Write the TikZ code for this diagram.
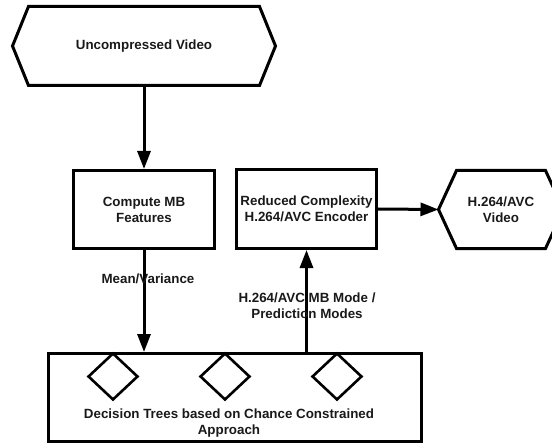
\documentclass[tikz,border=0pt]{standalone}
\usepackage{fontspec}
\setmainfont{Liberation Sans}
\usetikzlibrary{arrows.meta,shapes.geometric}
\begin{document}
\begin{tikzpicture}[x=1bp,y=-1bp,
  txt/.style={font=\bfseries\fontsize{13.4}{16}\selectfont, align=center, text=black!90},
  box/.style={draw, line width=3bp, txt, inner sep=0pt},
  hexa/.style={txt, inner sep=0pt, outer sep=0pt},
  hexline/.style={line width=3bp, line join=miter},
  dia/.style={draw, diamond, line width=2.6bp, inner sep=0pt, minimum width=50bp, minimum height=47bp},
  arr/.style={line width=3bp, -{Triangle[length=18bp,width=13bp]}},
  lbl/.style={txt}
]
\useasboundingbox (0,0) rectangle (552,446);
% top hexagon
\node[hexa, minimum width=263bp, minimum height=79bp] (uv) at (144,46) {Uncompressed Video};
\draw[hexline] (uv.west) -- ([xshift=16bp]uv.north west) -- ([xshift=-16bp]uv.north east) -- (uv.east) -- ([xshift=-16bp]uv.south east) -- ([xshift=16bp]uv.south west) -- cycle;
% boxes
\node[box, minimum width=141bp, minimum height=78bp] (cmb) at (144,209.5) {Compute MB\\Features};
\node[box, minimum width=140bp, minimum height=79bp] (red) at (306.5,209) {Reduced Complexity\\H.264/AVC Encoder};
% right hexagon
\node[hexa, minimum width=125bp, minimum height=78bp] (vid) at (501,209.5) {H.264/AVC\\Video};
\draw[hexline] (vid.west) -- ([xshift=18bp]vid.north west) -- ([xshift=-18bp]vid.north east) -- (vid.east) -- ([xshift=-18bp]vid.south east) -- ([xshift=18bp]vid.south west) -- cycle;
% bottom box
\node[draw, line width=3bp, inner sep=0pt, minimum width=373bp, minimum height=88bp] (bot) at (235,397.5) {};
\node[dia] (d1) at (113,376.5) {};
\node[dia] (d2) at (225,376.5) {};
\node[dia] (d3) at (337,376.5) {};
\node[txt, inner sep=0pt] (bt) at (229,423.5) {Decision Trees based on Chance Constrained\\Approach};
% connectors
\draw[arr] (uv.south) -- (cmb.north);
\draw[arr] (cmb.south) -- (cmb.south |- bot.north);
\draw[arr] (bot.north -| red.south) -- (red.south);
\draw[arr] (red.east) -- (vid.west);
% labels
\node[lbl, inner sep=0pt] (l1) at (148,279) {Mean/Variance};
\node[lbl, inner sep=0pt] (l2) at (307,306) {H.264/AVC MB Mode /\\Prediction Modes};
\end{tikzpicture}
\end{document}
